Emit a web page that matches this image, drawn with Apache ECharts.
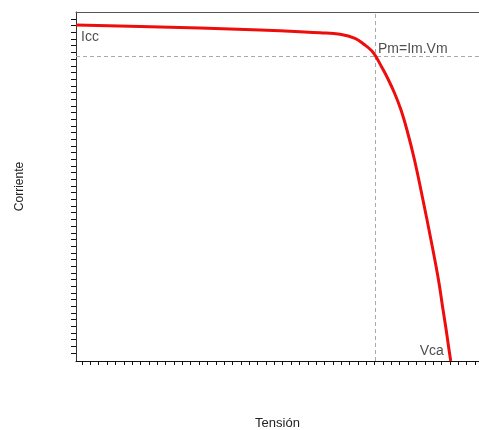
<!DOCTYPE html>
<html>
<head>
<meta charset="utf-8">
<script src="https://cdn.jsdelivr.net/npm/echarts@6/dist/echarts.min.js"></script>
<style>html,body{margin:0;padding:0;background:#fff}#c{width:479px;height:430px}</style>
</head>
<body>
<div id="c"></div>
<script>
// Curve data (arbitrary units, 0-100 on both axes)
const tension   = [0, 15.88, 30.77, 45.66, 55.58, 60.55, 65.51, 69.23, 71.71, 73.37, 74.44, 75.81, 77.30, 79.03, 80.65, 82.13, 84.00, 86.10, 88.09, 89.95, 90.97, 91.86, 92.46, 92.98];
const corriente = [96.28, 95.85, 95.42, 94.84, 94.36, 94.07, 93.61, 92.46, 90.54, 88.91, 87.19, 84.33, 81.09, 76.79, 71.92, 66.19, 57.59, 46.13, 34.67, 23.21, 15.47, 8.88, 4.01, 0];
// Maximum power point
const pmV = 74.19;
const pmI = 87.39;
// Annotation labels
const labelIcc = 'Icc';
const labelPm = 'Pm=Im.Vm';
const labelVca = 'Vca';
// Axis titles
const xTitle = 'Tensión';
const yTitle = 'Corriente';
// Minor tick counts
const xTickCount = 47;
const yTickCount = 50;

const chart = echarts.init(document.getElementById('c'), null, {renderer: 'canvas'});
const font = 'Liberation Sans, Arial, sans-serif';
const txt = '#222';

chart.setOption({
  animation: false,
  backgroundColor: '#fff',
  grid: [
    {left: 76, right: 0, top: 12, bottom: 69, containLabel: false, outerBoundsMode: 'none'},
    {left: 82, right: 4, top: 19, bottom: 77, containLabel: false, outerBoundsMode: 'none'}
  ],
  xAxis: [
    {type: 'value', gridIndex: 0, min: 0, max: 100, position: 'bottom',
     axisLine: {show: true, onZero: false, lineStyle: {color: '#111', width: 1}},
     axisTick: {show: false}, axisLabel: {show: false}, splitLine: {show: false},
     name: xTitle, nameLocation: 'middle', nameGap: 56,
     nameTextStyle: {fontFamily: font, fontSize: 13, color: txt}},
    {type: 'value', gridIndex: 0, min: 0, max: 100, position: 'top',
     axisLine: {show: true, onZero: false, lineStyle: {color: '#555', width: 1}},
     axisTick: {show: false}, axisLabel: {show: false}, splitLine: {show: false}},
    {type: 'value', gridIndex: 1, min: 0, max: xTickCount, interval: 1, position: 'bottom', offset: 8,
     axisLine: {show: false, onZero: false},
     axisTick: {show: true, length: 4, lineStyle: {color: '#111', width: 1}},
     axisLabel: {show: false}, splitLine: {show: false}}
  ],
  yAxis: [
    {type: 'value', gridIndex: 0, min: 0, max: 100,
     axisLine: {show: true, onZero: false, lineStyle: {color: '#333', width: 1}},
     axisTick: {show: false}, axisLabel: {show: false}, splitLine: {show: false},
     name: yTitle, nameLocation: 'middle', nameGap: 50, nameRotate: 90,
     nameTextStyle: {fontFamily: font, fontSize: 12, color: txt}},
    {type: 'value', gridIndex: 1, min: 0, max: yTickCount, interval: 1, position: 'left', offset: 6,
     axisLine: {show: false, onZero: false},
     axisTick: {show: true, length: 5, lineStyle: {color: '#111', width: 1}},
     axisLabel: {show: false}, splitLine: {show: false}}
  ],
  series: [
    {
      type: 'line', xAxisIndex: 0, yAxisIndex: 0,
      data: tension.map((v, i) => [v, corriente[i]]),
      smooth: 0.4, showSymbol: false, symbol: 'none',
      lineStyle: {color: '#ee0d0d', width: 3},
      z: 5,
      markLine: {
        silent: true, symbol: ['none', 'none'], label: {show: false},
        lineStyle: {color: '#aaa', width: 1, type: [4, 3]},
        data: [{xAxis: pmV}, {yAxis: pmI}],
        z: 2
      }
    },
    {
      type: 'scatter', xAxisIndex: 0, yAxisIndex: 0, symbolSize: 0, silent: true, z: 6,
      label: {show: true, fontFamily: font, fontSize: 14, color: txt, align: 'left', verticalAlign: 'top'},
      data: [
        {value: [tension[0], corriente[0]], label: {formatter: labelIcc, position: [5, 5]}},
        {value: [pmV, pmI], label: {formatter: labelPm, position: [3, -14]}},
        {value: [tension[tension.length - 1], 0], label: {formatter: labelVca, position: [-31, -17]}}
      ]
    }
  ]
});
</script>
</body>
</html>
